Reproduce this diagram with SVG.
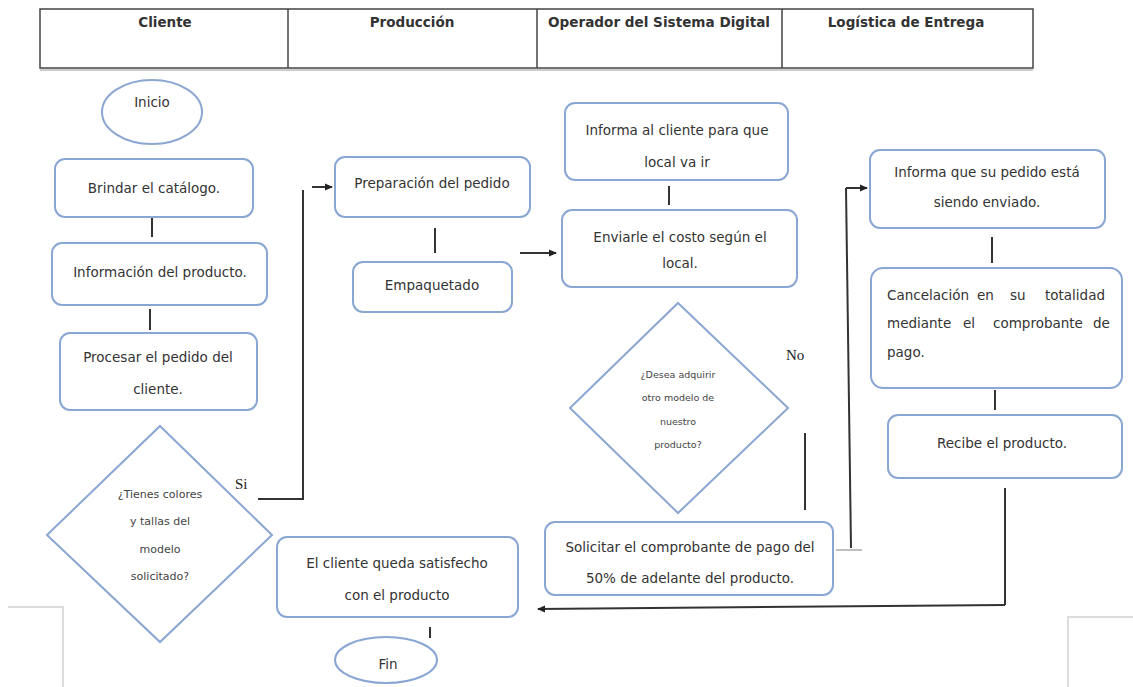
<svg xmlns="http://www.w3.org/2000/svg" width="1133" height="687" viewBox="0 0 1133 687">
<defs>
<marker id="ah" markerWidth="8" markerHeight="8" refX="7" refY="4" orient="auto" markerUnits="userSpaceOnUse">
<path d="M0,0.5 L8,4 L0,7.5 Z" fill="#222"/>
</marker>
<style>
.box{fill:#fff;stroke:#8aa6d3;stroke-width:2}
.t{font-family:"DejaVu Sans","Liberation Sans",sans-serif;font-size:13.5px;fill:#333;text-anchor:middle}
.s{font-family:"DejaVu Sans","Liberation Sans",sans-serif;font-size:11px;fill:#444;text-anchor:middle}
.xs{font-family:"DejaVu Sans","Liberation Sans",sans-serif;font-size:9.5px;fill:#444;text-anchor:middle}
.h{font-family:"DejaVu Sans","Liberation Sans",sans-serif;font-size:13.5px;font-weight:bold;fill:#333;text-anchor:middle}
.lbl{font-family:"Liberation Serif",serif;font-size:15px;fill:#222}
.c{stroke:#333;stroke-width:2;fill:none}
.tb{stroke:#444;stroke-width:1.5;fill:none}
.faint{stroke:#ddd;stroke-width:2;fill:none}
</style>
</defs>
<rect width="1133" height="687" fill="#fff"/>

<g id="header">
<line x1="40" y1="70" x2="1033" y2="70" stroke="#bbb" stroke-width="1.5"/>
<rect class="tb" x="40" y="9" width="993" height="59"/>
<line class="tb" x1="288" y1="9" x2="288" y2="68"/>
<line class="tb" x1="537" y1="9" x2="537" y2="68"/>
<line class="tb" x1="782" y1="9" x2="782" y2="68"/>
<text class="h" x="165" y="27">Cliente</text>
<text class="h" x="412" y="27">Producción</text>
<text class="h" x="659" y="27" textLength="222" lengthAdjust="spacingAndGlyphs">Operador del Sistema Digital</text>
<text class="h" x="906" y="27">Logística de Entrega</text>
</g>

<g id="artifacts">
<path class="faint" d="M8,607 H63 V687"/>
<path class="faint" d="M1068,687 V617 H1133"/>
</g>

<g id="connectors">
<line class="c" x1="152" y1="218" x2="152" y2="237"/>
<line class="c" x1="150" y1="309" x2="150" y2="330"/>
<path class="c" d="M258,499 H303 V190"/>
<line class="c" x1="312" y1="187" x2="332" y2="187" marker-end="url(#ah)"/>
<line class="c" x1="435" y1="228" x2="435" y2="253"/>
<line class="c" x1="520" y1="253" x2="556" y2="253" marker-end="url(#ah)"/>
<line class="c" x1="669" y1="186" x2="669" y2="205"/>
<line class="c" x1="805" y1="433" x2="805" y2="510"/>
<line class="c" x1="851" y1="548" x2="846" y2="188"/>
<line class="c" x1="846" y1="188" x2="867" y2="188" marker-end="url(#ah)"/>
<line x1="836" y1="550" x2="862" y2="550" stroke="#aaa" stroke-width="1.5"/>
<line class="c" x1="992" y1="237" x2="992" y2="263"/>
<line class="c" x1="995" y1="390" x2="995" y2="410"/>
<line class="c" x1="1005" y1="488" x2="1005" y2="605"/>
<line class="c" x1="1005" y1="605" x2="538" y2="609" marker-end="url(#ah)"/>
<line class="c" x1="430" y1="627" x2="430" y2="638"/>
<text class="lbl" x="235" y="489">Si</text>
<text class="lbl" x="786" y="360">No</text>
</g>

<g id="inicio">
<ellipse class="box" cx="152" cy="112" rx="50" ry="32"/>
<text class="t" x="152" y="107">Inicio</text>
</g>

<g id="brindar">
<rect class="box" x="55" y="159" width="198" height="58" rx="10"/>
<text class="t" x="154" y="193">Brindar el catálogo.</text>
</g>

<g id="informacion">
<rect class="box" x="52" y="243" width="215" height="62" rx="10"/>
<text class="t" x="160" y="277">Información del producto.</text>
</g>

<g id="procesar">
<rect class="box" x="60" y="333" width="197" height="77" rx="10"/>
<text class="t" x="158" y="362">Procesar el pedido del</text>
<text class="t" x="158" y="394">cliente.</text>
</g>

<g id="decision1">
<polygon class="box" points="160,426 272,535 160,642 47,535"/>
<text class="s" x="160" y="498">¿Tienes colores</text>
<text class="s" x="160" y="525">y tallas del</text>
<text class="s" x="160" y="553">modelo</text>
<text class="s" x="160" y="580">solicitado?</text>
</g>

<g id="preparacion">
<rect class="box" x="335" y="157" width="195" height="60" rx="10"/>
<text class="t" x="432" y="188">Preparación del pedido</text>
</g>

<g id="empaquetado">
<rect class="box" x="353" y="262" width="159" height="50" rx="10"/>
<text class="t" x="432" y="290">Empaquetado</text>
</g>

<g id="informa-local">
<rect class="box" x="565" y="103" width="223" height="77" rx="10"/>
<text class="t" x="677" y="135">Informa al cliente para que</text>
<text class="t" x="677" y="167">local va ir</text>
</g>

<g id="enviarle">
<rect class="box" x="562" y="210" width="235" height="77" rx="10"/>
<text class="t" x="680" y="242">Enviarle el costo según el</text>
<text class="t" x="680" y="268">local.</text>
</g>

<g id="decision2">
<polygon class="box" points="678,303 788,408 678,513 570,408"/>
<text class="xs" x="678" y="378">¿Desea adquirir</text>
<text class="xs" x="678" y="401">otro modelo de</text>
<text class="xs" x="678" y="425">nuestro</text>
<text class="xs" x="678" y="448">producto?</text>
</g>

<g id="solicitar">
<rect class="box" x="545" y="522" width="288" height="73" rx="10"/>
<text class="t" x="690" y="552">Solicitar el comprobante de pago del</text>
<text class="t" x="690" y="583">50% de adelante del producto.</text>
</g>

<g id="satisfecho">
<rect class="box" x="277" y="537" width="241" height="80" rx="10"/>
<text class="t" x="397" y="568">El cliente queda satisfecho</text>
<text class="t" x="397" y="600">con el producto</text>
</g>

<g id="fin">
<ellipse class="box" cx="386" cy="660" rx="51" ry="23"/>
<text class="t" x="388" y="669">Fin</text>
</g>

<g id="informa-envio">
<rect class="box" x="870" y="150" width="235" height="78" rx="10"/>
<text class="t" x="987" y="177">Informa que su pedido está</text>
<text class="t" x="987" y="207">siendo enviado.</text>
</g>

<g id="cancelacion">
<rect class="box" x="871" y="268" width="251" height="120" rx="12"/>
<text class="t" style="text-anchor:start"><tspan x="887" y="300">Cancelación</tspan><tspan x="977" y="300">en</tspan><tspan x="1010" y="300">su</tspan><tspan x="1045" y="300">totalidad</tspan></text>
<text class="t" style="text-anchor:start"><tspan x="887" y="328">mediante</tspan><tspan x="963" y="328">el</tspan><tspan x="993" y="328">comprobante</tspan><tspan x="1093" y="328">de</tspan></text>
<text class="t" x="887" y="357" style="text-anchor:start">pago.</text>
</g>

<g id="recibe">
<rect class="box" x="888" y="415" width="234" height="63" rx="10"/>
<text class="t" x="1002" y="448">Recibe el producto.</text>
</g>
</svg>
